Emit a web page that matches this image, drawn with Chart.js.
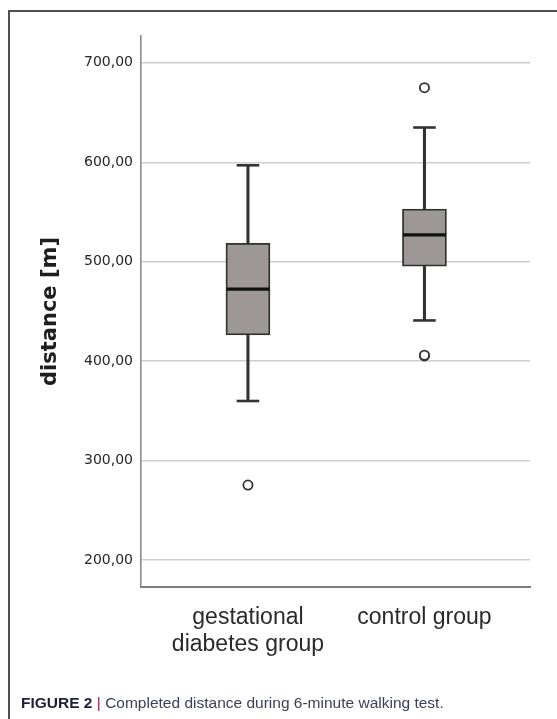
<!DOCTYPE html>
<html>
<head>
<meta charset="utf-8">
<script src="https://cdn.jsdelivr.net/npm/chart.js@4/dist/chart.umd.min.js"></script>
<style>
  html, body { margin: 0; padding: 0; background: #fff; width: 557px; height: 719px; overflow: hidden; }
  #frame { position: absolute; left: 8px; top: 10px; width: 700px; height: 800px;
           border-left: 2px solid #4f4f4f; border-top: 2px solid #4f4f4f; }
  #wrap { position: absolute; left: 0; top: 0; width: 557px; height: 719px; }
  #cap { position: absolute; left: 21px; top: 695px; font-family: "Liberation Sans", Arial, sans-serif;
         font-size: 15.5px; line-height: 16px; color: #3c4058; white-space: nowrap; }
  #cap b { color: #1f2035; }
  #cap .pipe { color: #8c2452; }
</style>
</head>
<body>
<div id="frame"></div>
<div id="wrap"><canvas id="c"></canvas></div>
<div id="cap"><b>FIGURE 2</b> <span class="pipe">|</span> Completed distance during 6-minute walking test.</div>
<script>
// ---- data ----
const categories = [["gestational", "diabetes group"], ["control group"]];
const groupX = [1, 2];
const whiskerMin = [360, 441];
const q1 = [426.5, 495.5];
const medians = [472.5, 527];
const q3 = [518.5, 553];
const whiskerMax = [597, 635];
const outliers = [[275.5], [675, 405.3, 406]];
const yTicks = [200, 300, 400, 500, 600, 700];

const boxData = groupX.map((x, i) => ({ x: x, y: [q1[i], q3[i]] }));
const upperWhisker = groupX.map((x, i) => ({ x: x, y: [q3[i], whiskerMax[i]] }));
const lowerWhisker = groupX.map((x, i) => ({ x: x, y: [whiskerMin[i], q1[i]] }));
const medianPts = groupX.map((x, i) => ({ x: x, y: medians[i] }));
const capPts = [];
groupX.forEach((x, i) => { capPts.push({ x: x, y: whiskerMax[i] }); capPts.push({ x: x, y: whiskerMin[i] }); });
const outlierPts = [];
groupX.forEach((x, i) => outliers[i].forEach(v => outlierPts.push({ x: x, y: v })));

new Chart(document.getElementById('c'), {
  type: 'bar',
  data: {
    datasets: [
      { type: 'scatter', data: outlierPts, order: 0, pointStyle: 'circle', pointRadius: 4.6,
        pointBorderWidth: 1.8, borderColor: '#333', backgroundColor: '#fff', pointBackgroundColor: '#fff', pointBorderColor: '#333' },
      { type: 'scatter', data: medianPts, order: 1, pointStyle: 'line', pointRadius: 21.5,
        pointBorderWidth: 3.2, pointBorderColor: '#111', borderColor: '#111' },
      { type: 'scatter', data: capPts, order: 1, pointStyle: 'line', pointRadius: 11.3,
        pointBorderWidth: 2.6, pointBorderColor: '#333', borderColor: '#333' },
      { type: 'bar', data: boxData, order: 3, grouped: false, barThickness: 44,
        backgroundColor: '#9d9798', borderColor: '#2f2f2f', borderWidth: 1.8, borderSkipped: false },
      { type: 'bar', data: upperWhisker, order: 4, grouped: false, barThickness: 2.4,
        backgroundColor: '#333', borderWidth: 0 },
      { type: 'bar', data: lowerWhisker, order: 4, grouped: false, barThickness: 2.4,
        backgroundColor: '#333', borderWidth: 0 }
    ]
  },
  options: {
    responsive: true,
    maintainAspectRatio: false,
    animation: false,
    events: [],
    layout: { padding: { top: 36, right: 27, left: 0, bottom: 0 } },
    plugins: { legend: { display: false }, tooltip: { enabled: false } },
    scales: {
      x: {
        type: 'linear',
        min: 0.394, max: 2.598,
        offset: false,
        grid: { display: false, drawTicks: false, offset: false },
        border: { display: true, color: '#7d7d7d', width: 2 },
        afterBuildTicks: s => { s.ticks = groupX.map(v => ({ value: v })); },
        afterFit: s => { s.height = 132; },
        ticks: {
          autoSkip: false, maxRotation: 0, minRotation: 0, padding: 17,
          color: '#2a2a2a',
          font: { family: '"Liberation Sans", Arial, sans-serif', size: 23, lineHeight: 1.17 },
          callback: (v) => { const i = groupX.indexOf(v); return i >= 0 ? categories[i] : ''; }
        }
      },
      y: {
        type: 'linear',
        min: 173, max: 727,
        grid: { color: '#cdcdcd', lineWidth: 1.6, drawTicks: false },
        border: { display: true, color: '#8a8a8a', width: 1.6 },
        afterBuildTicks: s => { s.ticks = yTicks.map(v => ({ value: v })); },
        afterFit: s => { s.width = 141; },
        ticks: {
          padding: 8, color: '#262626',
          font: { family: '"DejaVu Sans", sans-serif', size: 14 },
          callback: v => v.toFixed(2).replace('.', ',')
        },
        title: {
          display: true, text: 'distance [m]', color: '#1e1e1e',
          font: { family: '"DejaVu Sans", sans-serif', size: 21, weight: 'bold' },
          padding: { top: 38, bottom: 0 }
        }
      }
    }
  }
});
</script>
</body>
</html>
